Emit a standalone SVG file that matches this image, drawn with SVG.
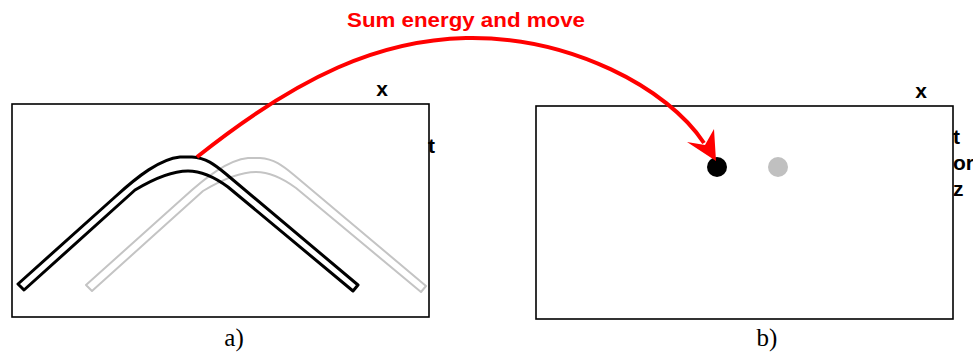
<svg xmlns="http://www.w3.org/2000/svg" width="973" height="353" viewBox="0 0 973 353">
<style>
.frame{fill:none;stroke:#000;stroke-width:1.6}
.ax{font-family:"Liberation Sans",Arial,sans-serif;font-weight:bold;font-size:21px;fill:#000}
.cap{font-family:"Liberation Serif","Times New Roman",serif;font-size:25px;fill:#000}
.band{fill:none;stroke-linejoin:round}
</style>
<defs>
<path id="bandShape" d="M18,284 L115,197 C138,176 160,159 180,157 L192,157 C206,158 214,164 226,174 L358,285 L353,291 L228,187 C213,176 201,171 188,171 C172,171 155,178 135,190 L24,290 Z"/>
</defs>
<rect width="973" height="353" fill="#fff"/>
<g id="panel-a">
<rect class="frame" x="12" y="104" width="417" height="213"/>
<use href="#bandShape" class="band" transform="translate(68,1)" stroke="#c4c4c4" stroke-width="2"/>
<use href="#bandShape" class="band" stroke="#000" stroke-width="3"/>
<text class="ax" x="382" y="96" text-anchor="middle">x</text>
<text class="ax" x="428" y="153">t</text>
<text class="cap" x="234" y="346" text-anchor="middle">a)</text>
</g>
<g id="panel-b">
<rect class="frame" x="536" y="106" width="417" height="213"/>
<circle cx="717" cy="167" r="10" fill="#000"/>
<circle cx="778" cy="167" r="10" fill="#c0c0c0"/>
<text class="ax" x="921" y="98" text-anchor="middle">x</text>
<text class="ax" x="953" y="144">t</text>
<text class="ax" x="953" y="170">or</text>
<text class="ax" x="953" y="196">z</text>
<text class="cap" x="767" y="346" text-anchor="middle">b)</text>
</g>
<g id="connectors">
<path d="M197,157 C300,75 380,40 466,38 C570,36 668,88 704,143" fill="none" stroke="#ff0000" stroke-width="4"/>
<polygon points="716,161 687,142 705,145 714,129" fill="#ff0000"/>
<text x="466" y="27" text-anchor="middle" textLength="238" lengthAdjust="spacingAndGlyphs" font-family="'Liberation Sans',Arial,sans-serif" font-weight="bold" font-size="20" fill="#ff0000">Sum energy and move</text>
</g>
</svg>
